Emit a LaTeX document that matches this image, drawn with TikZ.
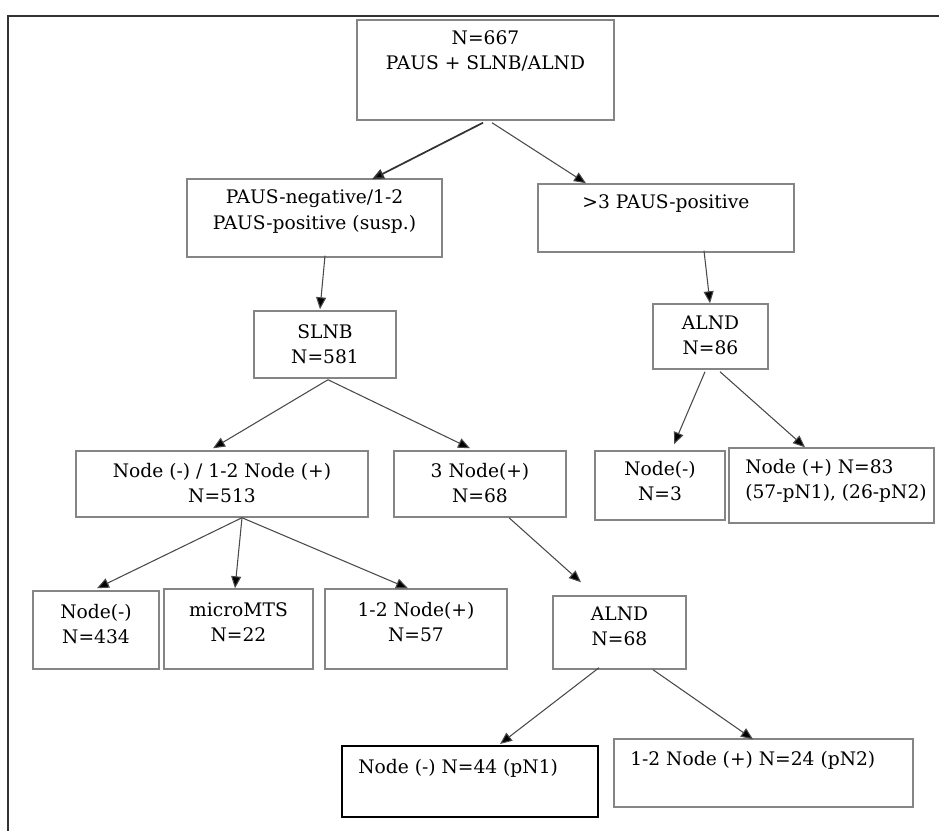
\documentclass[tikz,border=0pt]{standalone}
\usepackage{fontspec}
\setmainfont{DejaVu Serif}
\usetikzlibrary{calc,arrows.meta}
\definecolor{boxgray}{HTML}{858585}
\definecolor{arrgray}{HTML}{4A4A4A}
\definecolor{framegray}{HTML}{333333}
\tikzset{
  box/.style 2 args={draw=boxgray, line width=1.1pt, minimum width={#1*0.75pt}, minimum height={#2*0.75pt}, inner sep=0pt},
  darkbox/.style={draw=black, line width=1.5pt},
  txt/.style={align=center, inner sep=0pt, font=\fontsize{14}{18.8}\selectfont, text=black},
  ltxt/.style={align=left, anchor=west, inner sep=0pt, font=\fontsize{14}{18.8}\selectfont, text=black},
  arr/.style={draw=arrgray, line width=0.8pt, -{Triangle[length=9pt,width=7.5pt,fill=black]}},
  thickarr/.style={arr, draw=black!80, line width=1.3pt},
  frame/.style={draw=framegray, line width=1.5pt}
}
\begin{document}
\begin{tikzpicture}[x=0.75pt, y=-0.75pt]
\useasboundingbox (0,0) rectangle (939,831);
\draw[frame] (939,16) -- (8,16) -- (8,831);

% boxes
\node[box={257}{100}] (top) at (485.5,70) {};
\node[box={255}{78}] (neg) at (314.5,218) {};
\node[box={256}{68}] (pos3) at (666,218) {};
\node[box={142}{67}] (slnb) at (325,344.5) {};
\node[box={115}{65}] (alnd86) at (710.5,336.5) {};
\node[box={292}{66}] (n513) at (222,484) {};
\node[box={172}{66}] (n68) at (480,484) {};
\node[box={130}{69}] (n3) at (660,485.5) {};
\node[box={205}{75}] (n83) at (831.5,485.5) {};
\node[box={126}{78}] (n434) at (96,630) {};
\node[box={149}{80}] (micro) at (238.5,629) {};
\node[box={182}{80}] (n57) at (416,629) {};
\node[box={133}{73}] (alnd68) at (619.5,632.5) {};
\node[box={256}{71}, darkbox] (n44) at (470,781.5) {};
\node[box={299}{68}] (n24) at (763.5,773) {};

% texts
\node[txt] (top-t) at (485.5,50.5) {N=667\\PAUS + SLNB/ALND};
\node[txt] (neg-t) at (314.5,211.5) {PAUS-negative/1-2\\PAUS-positive (susp.)};
\node[txt] (pos3-t) at (666,204) {>3 PAUS-positive};
\node[txt] (slnb-t) at (325,344) {SLNB\\N=581};
\node[txt] (alnd86-t) at (710.5,335.5) {ALND\\N=86};
\node[txt] (n513-t) at (222,483) {Node (-) / 1-2 Node (+)\\N=513};
\node[txt] (n68-t) at (480,483) {3 Node(+)\\N=68};
\node[txt] (n3-t) at (660,481.5) {Node(-)\\N=3};
\node[ltxt] (n83-t) at (745,481) {Node (+) N=83\\(57-pN1), (26-pN2)};
\node[txt] (n434-t) at (96,624.5) {Node(-)\\N=434};
\node[txt] (micro-t) at (238.5,622) {microMTS\\N=22};
\node[txt] (n57-t) at (416,622.5) {1-2 Node(+)\\N=57};
\node[txt] (alnd68-t) at (619.5,626.5) {ALND\\N=68};
\node[ltxt] (n44-t) at (358,768) {Node (-) N=44 (pN1)};
\node[ltxt] (n24-t) at (630,760) {1-2 Node (+) N=24 (pN2)};

% connectors
\draw[thickarr] ($(top.south)+(-2.5,2)$) -- ($(neg.north)+(57.5,1)$);
\draw[arr] ($(top.south)+(6.5,2)$) -- ($(pos3.north)+(-80,0)$);
\draw[arr] ($(neg.south)+(10.5,-2)$) -- ($(slnb.north)+(-5,-1)$);
\draw[arr] ($(pos3.south)+(38,-2)$) -- ($(alnd86.north)+(-0.5,0)$);
\draw[arr] ($(slnb.south)+(3,1)$) -- ($(n513.north)+(-9,-2)$);
\draw[arr] ($(slnb.south)+(3,1)$) -- ($(n68.north)+(-10,-2)$);
\draw[arr] ($(alnd86.south)+(-5.5,2)$) -- ($(n3.north)+(14,-6)$);
\draw[arr] ($(alnd86.south)+(9.5,2)$) -- ($(n83.north)+(-26.5,0)$);
\draw[arr] ($(n513.south)+(20,0)$) -- ($(n434.north)+(1,-2)$);
\draw[arr] ($(n513.south)+(20,0)$) -- ($(micro.north)+(-3.5,0)$);
\draw[arr] ($(n513.south)+(20,0)$) -- ($(n57.north)+(-8,0)$);
\draw[arr] ($(n68.south)+(29,0)$) -- ($(alnd68.north)+(-38.5,-13)$);
\draw[arr] ($(alnd68.south)+(-20.5,-2)$) -- ($(n44.north)+(30,-1)$);
\draw[arr] ($(alnd68.south)+(33.5,0)$) -- ($(n24.north)+(-10.5,1)$);
\end{tikzpicture}
\end{document}
